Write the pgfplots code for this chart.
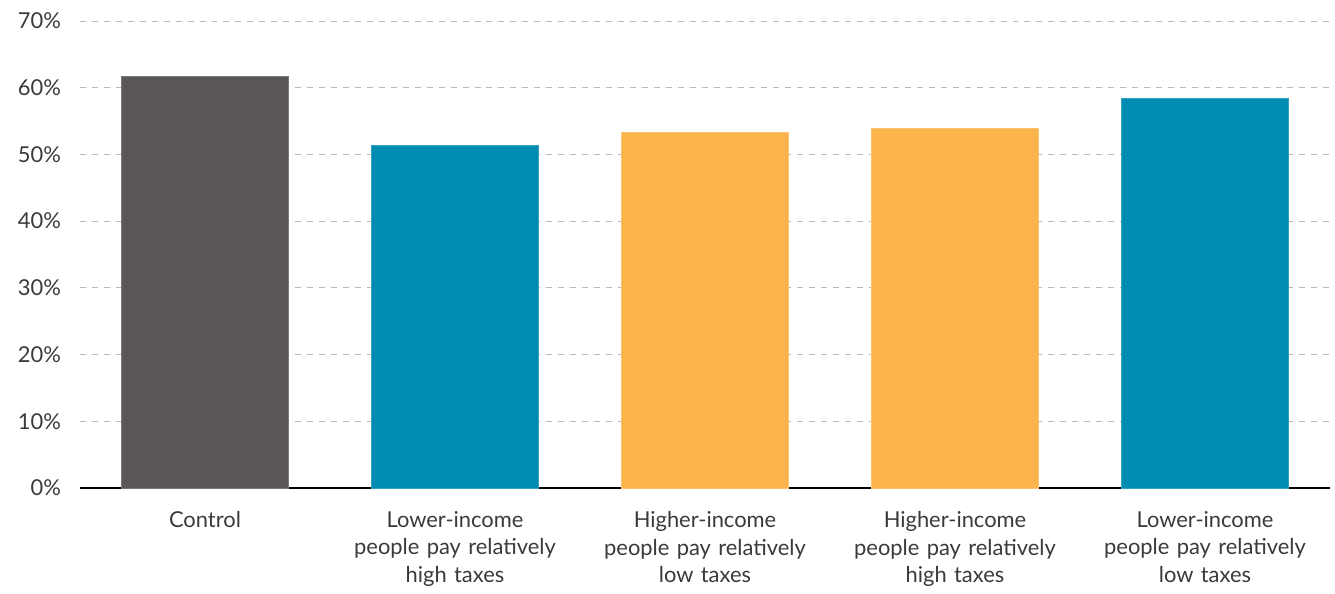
\documentclass[border=0pt]{standalone}
\usepackage{pgfplots}
\pgfplotsset{compat=1.18}
\usepackage{fontspec}
\setmainfont{Lato}
\definecolor{cdark}{HTML}{5B5657}
\definecolor{cteal}{HTML}{008BB0}
\definecolor{corange}{HTML}{FBB44C}
\definecolor{ctext}{HTML}{3A3A3A}
\begin{document}
\begin{tikzpicture}
\begin{axis}[
  name=ax,
  scale only axis,
  width=625bp, height=233.5bp,
  xmin=-0.5, xmax=4.5,
  ymin=0, ymax=70,
  ytick={0,10,20,30,40,50,60,70},
  yticklabel={\pgfmathprintnumber{\tick}\%},
  /pgf/number format/assume math mode=true,
  xtick={0,1,2,3,4},
  xticklabels={Control,
    {Lower-income\\people pay relatively\\high taxes},
    {Higher-income\\people pay relatively\\low taxes},
    {Higher-income\\people pay relatively\\high taxes},
    {Lower-income\\people pay relatively\\low taxes}},
  xticklabel style={align=center, text width=120bp, font=\fontsize{11}{14}\selectfont, text=ctext, yshift=-8bp},
  yticklabel style={font=\fontsize{11}{13}\selectfont, text=ctext, xshift=-6bp},
  axis lines*=left,
  y axis line style={draw=none},
  x axis line style={black, line width=1pt, -},
  major tick length=0pt,
  ymajorgrids,
  major grid style={dashed, gray!55, line width=0.5pt},
  ybar, bar width=83.5bp, bar shift=0pt,
  clip=false,
]
\addplot[fill=cdark, draw=cdark!80!white] coordinates {(0,61.7)};
\addplot[fill=cteal, draw=cteal!80!white] coordinates {(1,51.3)};
\addplot[fill=corange, draw=corange!80!white] coordinates {(2,53.3)};
\addplot[fill=corange, draw=corange!80!white] coordinates {(3,53.9)};
\addplot[fill=cteal, draw=cteal!80!white] coordinates {(4,58.4)};
\end{axis}
\path (ax.south west) ++(-40bp,-51.5bp) coordinate (bl);
\path (ax.north east) ++(2.5bp,10.5bp) coordinate (tr);
\path (bl) rectangle (tr);
\end{tikzpicture}
\end{document}
